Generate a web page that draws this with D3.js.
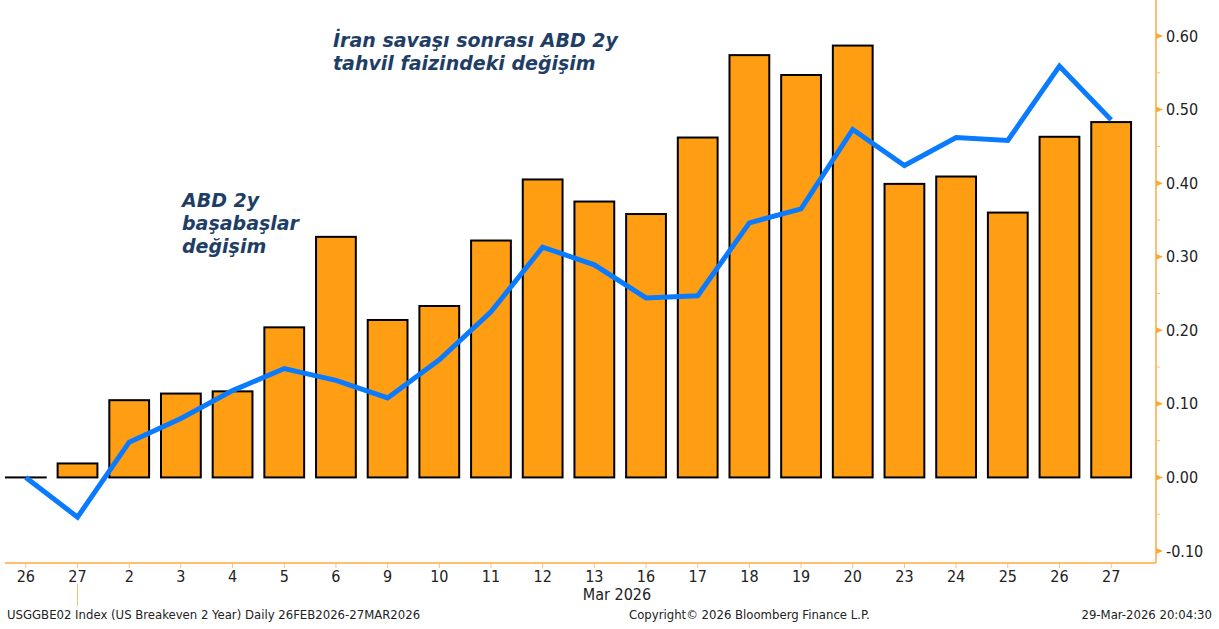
<!DOCTYPE html>
<html><head><meta charset="utf-8">
<script src="https://cdn.jsdelivr.net/npm/d3@7"></script>
<style>
html,body{margin:0;padding:0;background:#fff;}
svg{display:block;}
</style></head>
<body>
<svg id="c" width="1219" height="629"></svg>
<script>
const dayLabels = ["26","27","2","3","4","5","6","9","10","11","12","13","16","17","18","19","20","23","24","25","26","27"];
const barValues = [0.000,0.019,0.105,0.114,0.117,0.204,0.327,0.214,0.233,0.322,0.405,0.375,0.358,0.462,0.574,0.547,0.587,0.399,0.409,0.360,0.463,0.483];
const lineValues = [0.000,-0.054,0.048,0.080,0.118,0.148,0.132,0.108,0.160,0.225,0.313,0.289,0.244,0.247,0.346,0.365,0.473,0.424,0.462,0.458,0.559,0.486];
const yTicks = [-0.10,0.00,0.10,0.20,0.30,0.40,0.50,0.60];
const yMinorTicks = [-0.05,0.05,0.15,0.25,0.35,0.45,0.55,0.65];
const monthLabel = "Mar 2026";
const annotationTop = ["İran savaşı sonrası ABD 2y","tahvil faizindeki değişim"];
const annotationLeft = ["ABD 2y","başabaşlar","değişim"];
const footerLeft = "USGGBE02 Index (US Breakeven 2 Year) Daily 26FEB2026-27MAR2026";
const footerMid = "Copyright© 2026 Bloomberg Finance L.P.";
const footerRight = "29-Mar-2026 20:04:30";

const svg = d3.select("#c");
const axisColor = "#FFBF6E";
const tickFont = "Tahoma, 'DejaVu Sans Condensed', 'DejaVu Sans', sans-serif";

const plotLeft = 5, plotRight = 1156, plotTop = 0, plotBottom = 563;
const y = d3.scaleLinear().domain([-0.10, 0.60]).range([551, 36]);
const x = d3.scaleBand().domain(d3.range(dayLabels.length)).range([0, 1137]).paddingInner(0.23).paddingOuter(0.115);

// bars
svg.append("g").selectAll("rect").data(barValues).join("rect")
  .attr("x", (d,i) => x(i))
  .attr("width", x.bandwidth())
  .attr("y", d => Math.min(y(d), y(0)))
  .attr("height", d => Math.max(Math.abs(y(d) - y(0)), 0.01))
  .attr("fill", "#FF9E12")
  .attr("stroke", "#000")
  .attr("stroke-width", 2);

// line
const line = d3.line().x((d,i) => x(i) + x.bandwidth()/2).y(d => y(d));
svg.append("path").datum(lineValues)
  .attr("d", line)
  .attr("fill", "none")
  .attr("stroke", "#0A7BFF")
  .attr("stroke-width", 5)
  .attr("stroke-linejoin", "miter");

// bottom axis
const xAxis = d3.axisBottom(x).tickSize(5).tickPadding(3).tickFormat(i => dayLabels[i]);
const gx = svg.append("g").attr("transform", `translate(0,${plotBottom})`).call(xAxis);
gx.select(".domain").remove();
gx.selectAll(".tick line").attr("stroke", axisColor);
gx.selectAll(".tick text").attr("font-family", tickFont).attr("font-size", 16).attr("fill", "#222");
svg.append("line").attr("x1", plotLeft).attr("x2", plotRight).attr("y1", plotBottom).attr("y2", plotBottom)
  .attr("stroke", axisColor).attr("stroke-width", 2);
// month separator
svg.append("line").attr("x1", x(1)+x.bandwidth()/2).attr("x2", x(1)+x.bandwidth()/2).attr("y1", 584).attr("y2", 606)
  .attr("stroke", axisColor).attr("stroke-width", 1);
svg.append("text").attr("x", 617).attr("y", 600).attr("text-anchor", "middle")
  .attr("font-family", tickFont).attr("font-size", 16).attr("fill", "#222").text(monthLabel);

// right axis
const fmt = v => d3.format(".2f")(v).replace("\u2212", "-");
const yAxis = d3.axisRight(y).tickValues(yTicks).tickSize(0).tickPadding(10).tickFormat(fmt);
const gy = svg.append("g").attr("transform", `translate(${plotRight},0)`).call(yAxis);
gy.select(".domain").remove();
gy.selectAll(".tick text").attr("font-family", tickFont).attr("font-size", 16).attr("fill", "#222");
svg.append("line").attr("x1", plotRight).attr("x2", plotRight).attr("y1", plotTop).attr("y2", plotBottom)
  .attr("stroke", axisColor).attr("stroke-width", 2);
svg.append("g").selectAll("path").data(yTicks).join("path")
  .attr("d", d => `M${plotRight},${y(d)-3}L${plotRight+7},${y(d)}L${plotRight},${y(d)+3}Z`)
  .attr("fill", "#FFA733");
svg.append("g").selectAll("line").data(yMinorTicks).join("line")
  .attr("x1", plotRight).attr("x2", plotRight+4)
  .attr("y1", d => y(d)).attr("y2", d => y(d))
  .attr("stroke", axisColor).attr("stroke-width", 1);

// annotations
const annFont = "Verdana, 'DejaVu Sans', sans-serif";
const annColor = "#1F3E66";
annotationTop.forEach((t,i) => {
  svg.append("text").attr("x", 333).attr("y", 47 + i*23).attr("font-family", annFont)
    .attr("font-size", 19).attr("font-weight", "bold").attr("font-style", "italic")
    .attr("fill", annColor).text(t);
});
annotationLeft.forEach((t,i) => {
  svg.append("text").attr("x", 182).attr("y", 207 + i*23).attr("font-family", annFont)
    .attr("font-size", 19).attr("font-weight", "bold").attr("font-style", "italic")
    .attr("fill", annColor).text(t);
});

// footer
const ff = (t, xp, anchor) => svg.append("text").attr("x", xp).attr("y", 619).attr("text-anchor", anchor)
  .attr("font-family", tickFont).attr("font-size", 13).attr("fill", "#222").text(t);
ff(footerLeft, 7, "start");
ff(footerMid, 629, "start");
ff(footerRight, 1212, "end");
</script>
</body></html>
